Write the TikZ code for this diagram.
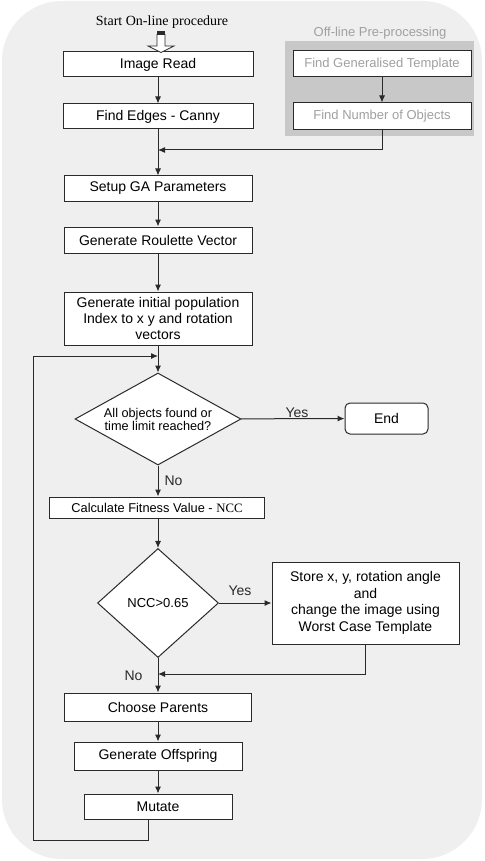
\documentclass[tikz,border=0pt]{standalone}
\usepackage{fontspec}
\setmainfont{Liberation Sans}
\newfontfamily\timesfont{Liberation Serif}
\usetikzlibrary{shapes.geometric, arrows.meta}
\definecolor{bggray}{HTML}{EEEFEE}
\definecolor{offgray}{HTML}{C8C8C8}
\definecolor{offtext}{HTML}{A0A0A0}
\definecolor{linegray}{HTML}{2A2A2A}

\begin{document}
\begin{tikzpicture}[x=1pt, y=-1pt, line width=1pt, >={Latex[length=7pt,width=6pt]},
  every node/.style={font=\fontsize{14}{16}\selectfont},
  box/.style={rectangle, draw=linegray, fill=white, inner sep=0pt, align=center},
  offbox/.style={box, text=offtext, font=\fontsize{13}{16}\selectfont},
  decide/.style={diamond, draw=linegray, fill=white, inner sep=1pt, align=center},
  lbl/.style={inner sep=0pt}]
  \useasboundingbox (0,0) rectangle (484,861);
  \fill[bggray, rounded corners=60pt] (2,1) rectangle (482,859);
  \fill[offgray] (285,41) rectangle (474,136);

  \node (start) [lbl, font=\timesfont\fontsize{14}{16}\selectfont] at (162,22) {Start On-line procedure};
  \node (offline) [lbl, text=offtext, font=\fontsize{13}{16}\selectfont] at (380,33) {Off-line Pre-processing};

  \node (read) [box, minimum width=190pt, minimum height=25pt] at (158,64.5) {Image Read};
  \node (edges) [box, minimum width=190pt, minimum height=25pt] at (158,116.5) {Find Edges - Canny};
  \node (setup) [box, minimum width=188pt, minimum height=25pt] at (158,188.5) {Setup GA Parameters};
  \node (roulette) [box, minimum width=188pt, minimum height=26pt] at (158,240) {Generate Roulette Vector};
  \node (init) [box, minimum width=188pt, minimum height=53pt] at (158,318.5) {Generate initial population\\Index to x y and rotation\\vectors};
  \node (found) [decide, aspect=1.8, minimum width=166pt, minimum height=92pt,
    font=\fontsize{12.7}{13}\selectfont] at (158,419) {All objects found or\\time limit reached?};
  \node (end) [box, rounded corners=5pt, minimum width=83pt, minimum height=31pt] at (386.5,418.5) {End};
  \node (fitness) [box, minimum width=215pt, minimum height=21pt,
    font=\fontsize{12.8}{15}\selectfont] at (157,507.5) {Calculate Fitness Value - {\timesfont NCC}};
  \node (ncc) [decide, minimum width=121pt, minimum height=109pt,
    font=\fontsize{13}{15}\selectfont] at (158,603) {NCC>0.65};
  \node (store) [box, minimum width=187pt, minimum height=82pt,
    font=\fontsize{14}{16.5}\selectfont] at (365.5,603) {Store x, y, rotation angle\\and\\change the image using\\ Worst Case Template};
  \node (parents) [box, minimum width=187pt, minimum height=28pt] at (158,707) {Choose Parents};
  \node (offspring) [box, minimum width=168pt, minimum height=28pt] at (158,756) {Generate Offspring};
  \node (mutate) [box, minimum width=148pt, minimum height=25pt] at (158,806.5) {Mutate};

  \node (template) [offbox, minimum width=178pt, minimum height=26pt] at (382,64) {Find Generalised Template};
  \node (number) [offbox, minimum width=178pt, minimum height=27pt] at (382,116.5) {Find Number of Objects};

  \coordinate (join1) at (158,150);
  \coordinate (join2) at (158,674);
  \coordinate (loop) at (158,356);
  \coordinate (corner) at (33,840);

  % hollow start arrow
  \fill[linegray] (157,31.5) rectangle (165,34.5);
  \draw[linegray, line width=.8pt, fill=white] (157,34.5) -- (157,46) -- (148,46) -- (161,52.5)
    -- (174,46) -- (165,46) -- (165,34.5) -- cycle;

  \draw[->, linegray] (read) -- (edges);
  \draw[->, linegray] (edges) -- (setup);
  \draw[->, linegray] (template) -- (number);
  \draw[->, linegray] (number) |- (join1);
  \draw[->, linegray] (setup) -- (roulette);
  \draw[->, linegray] (roulette) -- (init);
  \draw[->, linegray] (init) -- (found);
  \draw[->, linegray] (found) -- node[lbl, pos=.54, above=1pt] {Yes} (end);
  \draw[->, linegray] (found) -- node[lbl, midway, right=6pt] {No} (found |- fitness.north);
  \draw[->, linegray] (fitness.south -| ncc) -- (ncc);
  \draw[->, linegray] (ncc) -- node[lbl, pos=.4, above=7pt] {Yes} (store);
  \draw[->, linegray] (ncc) -- node[lbl, midway, left=15pt] {No} (parents);
  \draw[->, linegray] (store) |- (join2);
  \draw[->, linegray] (parents) -- (offspring);
  \draw[->, linegray] (offspring) -- (mutate);
  \draw[->, linegray] ([xshift=-10pt]mutate.south) |- (corner) |- (loop);
\end{tikzpicture}
\end{document}
